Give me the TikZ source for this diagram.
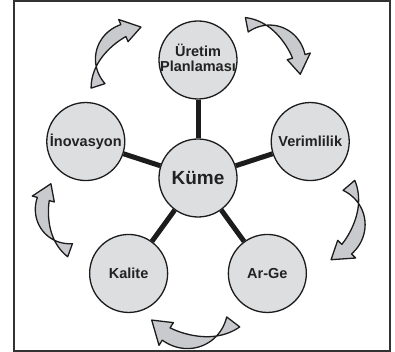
\documentclass[tikz,border=0pt]{standalone}
\usepackage{fontspec}
\setsansfont{Liberation Sans}
\usepackage{tikz}
\definecolor{circgray}{RGB}{221,222,224}
\definecolor{arrowgray}{RGB}{200,202,205}
\definecolor{linec}{RGB}{28,28,28}
\definecolor{textc}{RGB}{34,34,34}
\newcommand{\ctext}[1]{\makebox[0pt]{#1}}
\tikzset{
  unit/.style={circle, draw=linec, fill=circgray, line width=1.3pt,
    minimum size=78pt, inner sep=0pt, text=textc,
    font=\sffamily\bfseries\fontsize{14.5}{17}\selectfont},
  core/.style={unit, font=\sffamily\bfseries\fontsize{19}{22}\selectfont},
  spoke/.style={draw=linec, line width=5pt},
  cycarrow/.style={draw=linec, fill=arrowgray, line width=1.3pt, line join=round},
  frame/.style={draw=linec!90, line width=1.6pt},
  declare function={tw(\t)=6.5*cos((\t+115)*1.5)*(1+(\t+115)/100);}
}
\begin{document}
\begin{tikzpicture}[x=1pt, y=1pt]
\useasboundingbox (-198,-174) rectangle (197,178);
\draw[frame] (-184,-173) rectangle (192,177);
\def\pr{118} % distance of the outer circles from the centre
\def\rr{45}  % bend radius of the arrows

\node[core] (kume) at (0,0) {\ctext{Küme}};
\node[unit] (uretim) at (90:\pr) {\ctext{\raisebox{4pt}{\begin{tabular}{@{}c@{}}Üretim\\[-2pt]Planlaması\end{tabular}}}};
\node[unit] (verim) at (18:\pr) {\ctext{Verimlilik}};
\node[unit] (arge) at (-54:\pr) {\ctext{Ar-Ge}};
\node[unit] (kalite) at (-126:\pr) {\ctext{Kalite}};
\node[unit] (inov) at (162:\pr) {\ctext{İnovasyon}};

\foreach \n in {uretim, verim, arge, kalite, inov}
  \draw[spoke] (kume) -- (\n);

% twisted curved arrows, clockwise between the circles
% (middle of the arrow / turn / size)
\foreach \mx/\my/\r/\s in {75.5/128.5/131.2/1, 142/-44.5/70.5/1.05,
    -5.5/-143/-7.3/1.12, -137.5/-39/-79.9/0.95, -78.5/121.5/-132.1/1}
{
\begin{scope}[shift={(\mx,\my)}, rotate=\r, scale=\s, shift={(-2.8,26.3)}]
  \draw[cycarrow] plot[domain=-30:-115, samples=30, variable=\t] (\t:{\rr+tw(\t)})
    -- (-115:{\rr+12}) -- (-138:\rr) -- (-115:{\rr-12})
    -- plot[domain=-115:-30, samples=30, variable=\t] (\t:{\rr-tw(\t)}) -- cycle;
\end{scope}
}
\end{tikzpicture}
\end{document}
